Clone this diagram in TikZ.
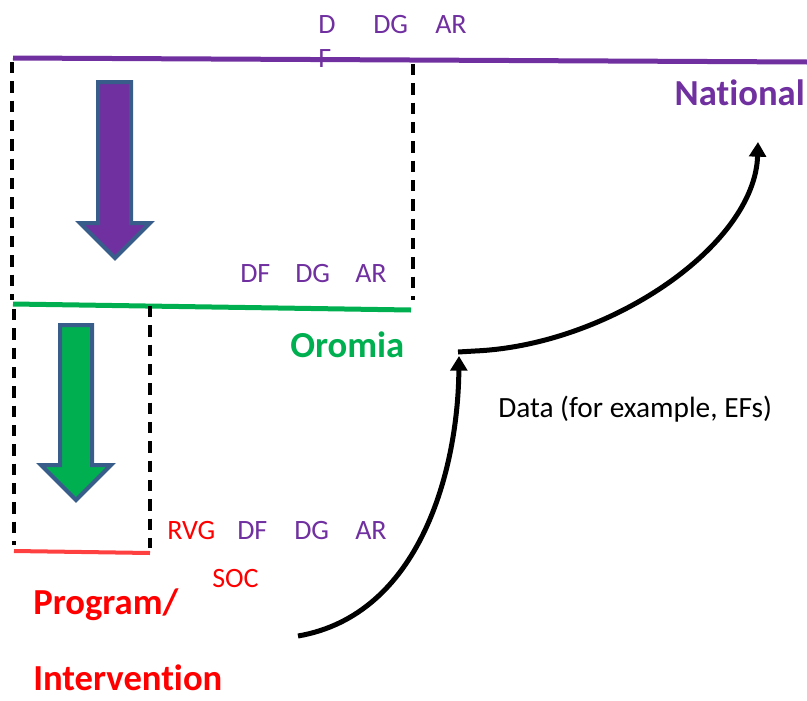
\documentclass[tikz,border=0pt]{standalone}
\usepackage{fontspec}
\setmainfont[Ligatures=NoCommon]{Carlito}
\usetikzlibrary{arrows.meta}
\definecolor{natpurple}{HTML}{7030A0}
\definecolor{oromgreen}{HTML}{00B050}
\definecolor{progred}{HTML}{FF0000}
\definecolor{redbar}{HTML}{FF4040}
\definecolor{arrowrim}{HTML}{385D8A}
\tikzset{
  lbl/.style={inner sep=0pt, anchor=base west, font=\fontsize{21}{25}\selectfont},
  level/.style={inner sep=0pt, font=\bfseries\fontsize{27.5}{32}\selectfont},
  dashbox/.style={line width=2.6pt, dash pattern=on 8.5pt off 6pt},
  bar/.style={line width=3.75pt},
  flow/.style={line width=3.75pt, -{Triangle[width=12.5pt,length=11pt]}},
  blockarrow/.style={draw=arrowrim, line width=3pt, line join=miter},
}
\begin{document}
\begin{tikzpicture}[x=0.75pt, y=-0.75pt]
    \useasboundingbox (0,0) rectangle (807,700);
    % levels
    \draw[bar, natpurple] (13,58)--(807,62);
    \draw[bar, oromgreen] (13,304)--(411,310);
    \draw[bar, line width=3pt, redbar] (14,551)--(150,553);
    % dashed boxes
    \draw[dashbox] (12,62)--(12,300);
    \draw[dashbox] (413,64)--(413,300);
    \draw[dashbox] (14,309)--(14,545);
    \draw[dashbox] (150,306)--(150,548);
    % block arrows
    \draw[blockarrow, fill=natpurple] (98,82)--(131,82)--(131,223)--(150,223)--(115,258)--(80,223)--(98,223)--cycle;
    \draw[blockarrow, fill=oromgreen] (60,325)--(92,325)--(92,465)--(111,465)--(76,500)--(41,465)--(60,465)--cycle;
    % level names
    \node[level, natpurple, anchor=base east] (national) at (805,105) {National};
    \node[level, oromgreen, anchor=base west] (oromia) at (290,357) {Oromia};
    \node[level, progred, anchor=base west] (program) at (33,614) {Program/};
    \node[level, progred, anchor=base west] (intervention) at (33,690) {Intervention};
    % national labels
    \node[lbl, natpurple] (nd) at (318,33) {D};
    \node[lbl, natpurple] (nf) at (318,67) {F};
    \node[lbl, natpurple] (ndg) at (373,33) {DG};
    \node[lbl, natpurple] (nar) at (435,33) {AR};
    % regional labels
    \node[lbl, natpurple] (odf) at (240,282) {DF};
    \node[lbl, natpurple] (odg) at (295,282) {DG};
    \node[lbl, natpurple] (oar) at (355,282) {AR};
    % program labels
    \node[lbl, progred] (prvg) at (167,539) {RVG};
    \node[lbl, natpurple] (pdf) at (237,539) {DF};
    \node[lbl, natpurple] (pdg) at (294,539) {DG};
    \node[lbl, natpurple] (par) at (355,539) {AR};
    \node[lbl, progred] (psoc) at (212,587) {SOC};
    % data flow
    \node[lbl, font=\fontsize{22}{26}\selectfont] (data) at (498,417) {Data (for example, EFs)};
    \coordinate (start) at (298,636);
    \coordinate (hub) at (459,356);
    \coordinate (turn) at (458,352);
    \coordinate (top) at (758,142);
    \draw[flow] (start) .. controls (420,615) and (458,470) .. (hub);
    \draw[flow] (turn) -- (475,351) .. controls (610,345) and (755,245) .. (top);
\end{tikzpicture}
\end{document}
